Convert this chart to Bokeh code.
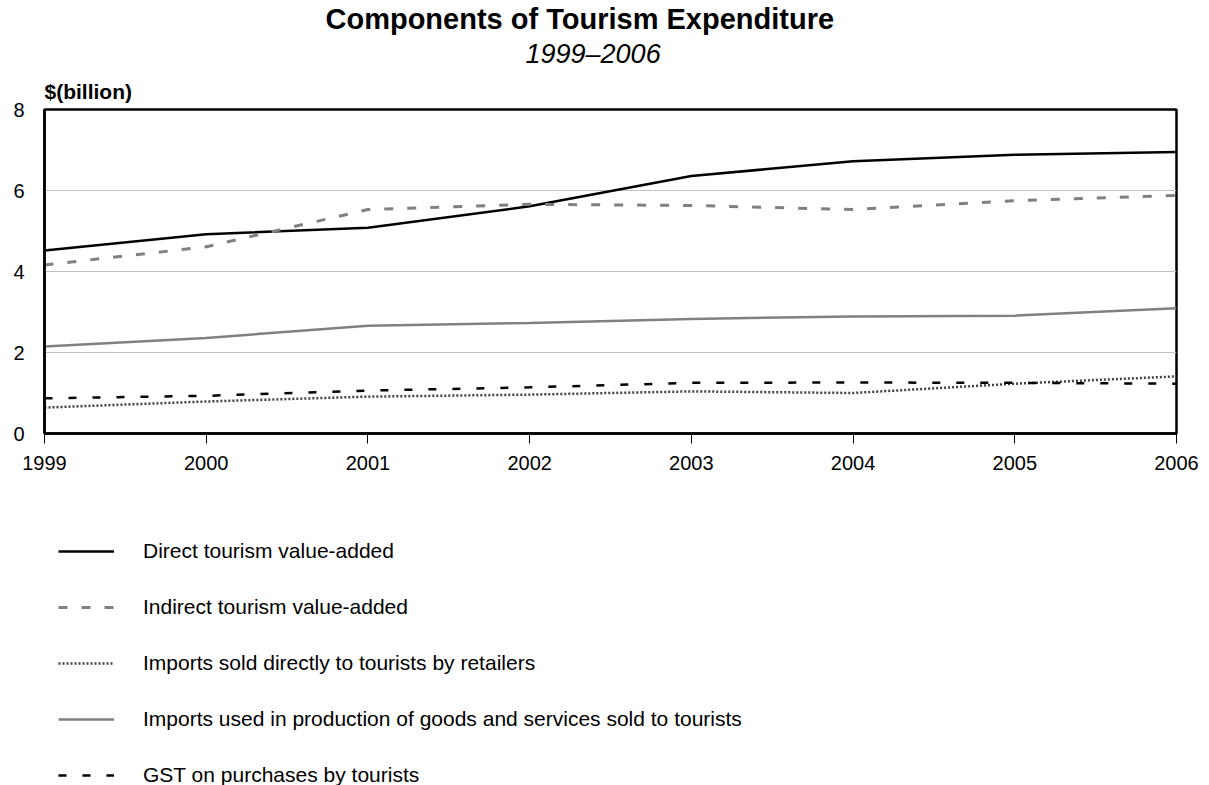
from bokeh.plotting import figure
from bokeh.models import Title, Legend, LegendItem, FixedTicker, Range1d
from bokeh.layouts import column
from bokeh.embed import file_html
from bokeh.resources import INLINE

years = [1999, 2000, 2001, 2002, 2003, 2004, 2005, 2006]
direct = [4.52, 4.92, 5.08, 5.61, 6.36, 6.72, 6.88, 6.95]
indirect = [4.16, 4.61, 5.53, 5.66, 5.63, 5.53, 5.75, 5.88]
imports_sold = [0.64, 0.79, 0.91, 0.96, 1.04, 1.00, 1.23, 1.41]
imports_used = [2.15, 2.36, 2.66, 2.73, 2.83, 2.89, 2.91, 3.09]
gst = [0.87, 0.93, 1.06, 1.14, 1.25, 1.26, 1.25, 1.23]
y_ticks = [0, 2, 4, 6, 8]

series_labels = [
    "Direct tourism value-added",
    "Indirect tourism value-added",
    "Imports sold directly to tourists by retailers",
    "Imports used in production of goods and services sold to tourists",
    "GST on purchases by tourists",
]

FONT = "Liberation Sans"

styles = [
    dict(line_color="black", line_width=2.5),
    dict(line_color="#808080", line_width=3, line_dash="9 14"),
    dict(line_color="#404040", line_width=2.5, line_dash="2 2"),
    dict(line_color="#808080", line_width=2.5),
    dict(line_color="black", line_width=2.5, line_dash="8 16"),
]
series = [direct, indirect, imports_sold, imports_used, gst]

p = figure(width=1209, height=480, output_backend="svg", toolbar_location=None,
           x_range=Range1d(1999, 2006), y_range=Range1d(0, 8),
           min_border_left=44, min_border_right=33, min_border_top=109, min_border_bottom=47)

p.outline_line_color = "black"
p.outline_line_width = 2.5
p.background_fill_color = "white"
p.border_fill_color = "white"

p.xgrid.grid_line_color = None
p.ygrid.grid_line_color = "#c0c0c0"
p.ygrid.grid_line_width = 1
p.ygrid.ticker = FixedTicker(ticks=y_ticks)

p.xaxis.ticker = FixedTicker(ticks=years)
p.xaxis.major_tick_out = 10
p.xaxis.major_tick_in = 0
p.xaxis.major_tick_line_color = "black"
p.xaxis.minor_tick_line_color = None
p.xaxis.axis_line_color = "black"
p.xaxis.axis_line_width = 2.5
p.xaxis.major_label_standoff = 12
p.xaxis.major_label_text_font = FONT
p.xaxis.major_label_text_font_size = "20px"
p.xaxis.major_label_text_color = "black"

p.yaxis.ticker = FixedTicker(ticks=y_ticks)
p.yaxis.major_tick_out = 0
p.yaxis.major_tick_in = 0
p.yaxis.minor_tick_line_color = None
p.yaxis.axis_line_color = "black"
p.yaxis.axis_line_width = 2.5
p.yaxis.major_label_standoff = 20
p.yaxis.major_label_text_font = FONT
p.yaxis.major_label_text_font_size = "20px"
p.yaxis.major_label_text_color = "black"

for vals, st in zip(series, styles):
    p.line(years, vals, **st)

unit = Title(text="$(billion)", align="left", text_font=FONT, text_font_size="21px",
             text_font_style="bold", text_color="black", standoff=14)
sub = Title(text="1999–2006", align="left", offset=481, text_font=FONT, text_font_size="27px",
            text_font_style="italic", text_color="black", standoff=3)
main = Title(text="Components of Tourism Expenditure", align="left", offset=281, text_font=FONT,
             text_font_size="29px", text_font_style="bold", text_color="black", standoff=1)
p.add_layout(unit, "above")
p.add_layout(sub, "above")
p.add_layout(main, "above")

# legend panel (its series lie outside its visible range; only the legend shows)
lg = figure(width=1209, height=305, output_backend="svg", toolbar_location=None,
            x_range=Range1d(1999, 2006), y_range=Range1d(100, 101),
            x_axis_location=None, y_axis_location=None,
            min_border_left=0, min_border_right=0, min_border_top=0, min_border_bottom=0)
lg.outline_line_color = None
lg.xgrid.grid_line_color = None
lg.ygrid.grid_line_color = None

items = []
for lab, vals, st in zip(series_labels, series, styles):
    r = lg.line(years, vals, **st)
    items.append(LegendItem(label=lab, renderers=[r]))

legend = Legend(items=items, location=(14, -3), orientation="vertical")
legend.border_line_color = None
legend.background_fill_alpha = 0
legend.padding = 0
legend.margin = 0
legend.spacing = 30
legend.glyph_width = 56
legend.glyph_height = 26
legend.label_height = 26
legend.label_standoff = 29
legend.label_text_font = FONT
legend.label_text_font_size = "21px"
legend.label_text_color = "black"
lg.add_layout(legend, "center")

layout = column(p, lg, spacing=0)
open("out.html", "w").write(file_html(layout, INLINE))
